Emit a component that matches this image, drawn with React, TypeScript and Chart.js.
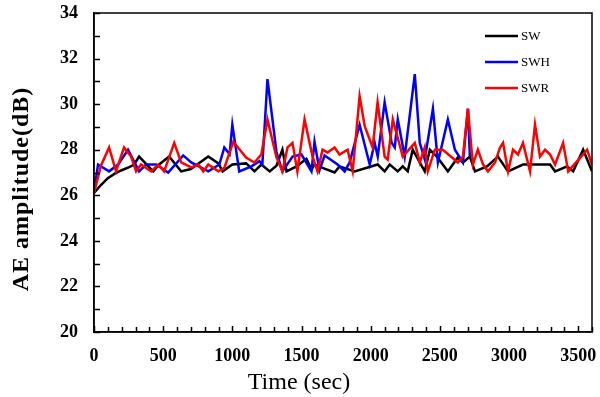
import React, { useEffect, useRef } from "react";
import { Chart, registerables } from "chart.js";

Chart.register(...registerables);

const swTime = [0, 50, 100, 150, 200, 250, 290, 326, 428, 471, 543, 630, 700, 826, 899, 930, 1000, 1100, 1160, 1210, 1270, 1319, 1362, 1392, 1464, 1536, 1572, 1594, 1652, 1739, 1775, 1884, 2051, 2101, 2138, 2196, 2232, 2268, 2304, 2391, 2428, 2478, 2558, 2630, 2667, 2717, 2754, 2841, 2920, 2993, 3101, 3152, 3297, 3333, 3420, 3464, 3536, 3600];
const swValues = [26.1, 26.45, 26.75, 26.95, 27.1, 27.22, 27.35, 27.7, 27.05, 27.35, 27.7, 27.05, 27.15, 27.7, 27.4, 27.05, 27.35, 27.4, 27.05, 27.35, 27.05, 27.3, 28.0, 27.05, 27.27, 27.6, 27.13, 27.35, 27.2, 27.0, 27.27, 27.05, 27.35, 27.05, 27.35, 27.05, 27.27, 27.05, 28.0, 27.05, 28.0, 27.7, 27.05, 27.66, 27.44, 27.7, 27.05, 27.27, 27.7, 27.05, 27.35, 27.35, 27.35, 27.05, 27.27, 27.05, 28.0, 27.05];

const swhTime = [0, 29, 109, 174, 246, 326, 377, 449, 536, 645, 703, 826, 906, 942, 980, 1000, 1050, 1138, 1196, 1217, 1254, 1319, 1362, 1435, 1500, 1572, 1594, 1630, 1667, 1761, 1812, 1848, 1920, 1993, 2029, 2051, 2101, 2152, 2174, 2196, 2246, 2319, 2355, 2391, 2450, 2486, 2558, 2609, 2667, 2703, 2717];
const swhValues = [26.1, 27.35, 27.05, 27.35, 28.0, 27.05, 27.35, 27.35, 27.0, 27.75, 27.44, 27.05, 27.35, 28.1, 27.8, 29.1, 27.05, 27.27, 27.5, 27.35, 31.1, 27.9, 27.05, 27.7, 27.79, 27.05, 28.35, 27.1, 27.75, 27.35, 27.05, 27.44, 29.1, 27.35, 28.3, 27.7, 30.08, 28.3, 28.1, 29.33, 27.7, 31.32, 28.3, 27.57, 29.8, 27.44, 29.33, 28.0, 27.44, 29.8, 27.7];

const swrTime = [0, 50, 109, 159, 217, 268, 304, 340, 413, 464, 507, 580, 630, 703, 754, 790, 826, 899, 942, 1007, 1100, 1160, 1210, 1254, 1319, 1362, 1399, 1435, 1470, 1522, 1580, 1616, 1652, 1688, 1739, 1775, 1833, 1870, 1920, 1957, 2014, 2050, 2101, 2123, 2160, 2232, 2319, 2355, 2391, 2413, 2464, 2522, 2630, 2667, 2703, 2739, 2775, 2812, 2848, 2899, 2935, 2957, 2993, 3029, 3065, 3101, 3152, 3188, 3224, 3261, 3297, 3333, 3391, 3428, 3565, 3600];
const swrValues = [26.1, 27.3, 28.1, 27.05, 28.1, 27.7, 27.05, 27.35, 27.05, 27.35, 27.05, 28.3, 27.44, 27.22, 27.35, 27.05, 27.35, 27.05, 27.2, 28.35, 27.66, 27.44, 27.8, 29.33, 27.66, 27.05, 28.1, 28.3, 27.05, 29.33, 27.7, 27.05, 28.0, 27.88, 28.1, 27.79, 28.0, 27.05, 30.35, 29.03, 28.1, 30.08, 27.7, 27.57, 29.33, 27.7, 28.3, 27.44, 28.1, 27.05, 28.0, 28.0, 27.44, 27.7, 29.8, 27.35, 28.0, 27.35, 27.05, 27.44, 28.1, 28.3, 27.05, 28.0, 27.79, 28.3, 27.05, 29.1, 27.7, 28.0, 27.79, 27.35, 28.3, 27.05, 28.0, 27.35];

const xTickValues = [0, 500, 1000, 1500, 2000, 2500, 3000, 3500];
const seriesNames = ["SW", "SWH", "SWR"];
const seriesColors = ["#000000", "#0000ff", "#ff0000"];
const xTitle = "Time (sec)";
const yTitle = "AE amplitude(dB)";

const SERIF = "'Liberation Serif', 'Times New Roman', serif";

const toPoints = (xs: number[], ys: number[]) => xs.map((x, i) => ({ x, y: ys[i] }));

const decorations = {
  id: "decorations",
  afterDatasetsDraw(chart: any) {
    const { ctx, chartArea: a, scales } = chart;
    const xs = scales.x;
    const ys = scales.y;
    ctx.save();
    ctx.strokeStyle = "#000";
    ctx.lineWidth = 1.5;
    ctx.beginPath();
    for (let v = 0; v <= 3600; v += 100) {
      const px = Math.round(xs.getPixelForValue(v)) + 0.5;
      const len = v % 500 === 0 ? 6 : 5;
      ctx.moveTo(px, a.bottom);
      ctx.lineTo(px, a.bottom - len);
    }
    for (let v = 20; v <= 34; v += 1) {
      const py = Math.round(ys.getPixelForValue(v)) + 0.5;
      ctx.moveTo(a.left, py);
      ctx.lineTo(a.left + 6, py);
    }
    ctx.stroke();
    ctx.strokeRect(a.left, a.top, a.right - a.left, a.bottom - a.top);

    // legend
    const lx0 = a.right - 107;
    const lx1 = a.right - 74;
    const rows = [36, 62, 88];
    ctx.font = `13px ${SERIF}`;
    ctx.textBaseline = "middle";
    ctx.textAlign = "left";
    ctx.fillStyle = "#000";
    seriesNames.forEach((n, i) => {
      ctx.strokeStyle = seriesColors[i];
      ctx.lineWidth = 2.5;
      ctx.beginPath();
      ctx.moveTo(lx0, rows[i]);
      ctx.lineTo(lx1, rows[i]);
      ctx.stroke();
      ctx.fillText(n, lx1 + 3, rows[i] + 1);
    });

    // axis titles
    ctx.fillStyle = "#000";
    ctx.textAlign = "center";
    ctx.textBaseline = "middle";
    ctx.font = `24px ${SERIF}`;
    ctx.fillText(xTitle, 299, 383);

    ctx.save();
    ctx.translate(22, 189);
    ctx.rotate(-Math.PI / 2);
    ctx.font = `bold 24px ${SERIF}`;
    try { (ctx as any).letterSpacing = "1px"; } catch (e) {}
    ctx.fillText(yTitle, 0, 0);
    ctx.restore();
    ctx.restore();
  },
};

export default function App() {
  const ref = useRef<HTMLCanvasElement | null>(null);
  useEffect(() => {
    if (!ref.current) return;
    const chart = new Chart(ref.current, {
      type: "line",
      data: {
        datasets: [
          { label: seriesNames[0], data: toPoints(swTime, swValues), borderColor: seriesColors[0], order: 3 },
          { label: seriesNames[1], data: toPoints(swhTime, swhValues), borderColor: seriesColors[1], order: 2 },
          { label: seriesNames[2], data: toPoints(swrTime, swrValues), borderColor: seriesColors[2], order: 1 },
        ].map((d) => ({ ...d, borderWidth: 2.5, pointRadius: 0, tension: 0, fill: false })),
      },
      options: {
        animation: false,
        responsive: false,
        events: [],
        layout: { padding: { top: 13, right: 8, left: 0, bottom: 0 } },
        plugins: { legend: { display: false }, tooltip: { enabled: false } },
        scales: {
          x: {
            type: "linear",
            min: 0,
            max: 3600,
            afterFit: (s: any) => { s.height = 65; s.paddingLeft = 0; s.paddingRight = 0; },
            afterBuildTicks: (s: any) => {
              s.ticks = xTickValues.map((v) => ({ value: v }));
            },
            grid: { display: false, drawTicks: false },
            border: { display: true, color: "#000", width: 1.5 },
            ticks: { color: "#000", padding: 14, maxRotation: 0, autoSkip: false, callback: (v: any) => String(v), font: { family: SERIF, size: 18, weight: "bold" } },
            title: { display: false },
          },
          y: {
            type: "linear",
            min: 20,
            max: 34,
            afterFit: (s: any) => { s.width = 94; s.paddingTop = 0; s.paddingBottom = 0; },
            ticks: { stepSize: 2, color: "#000", padding: 16, callback: (v: any) => String(v), font: { family: SERIF, size: 18, weight: "bold" } },
            grid: { display: false, drawTicks: false },
            border: { display: true, color: "#000", width: 1.5 },
            title: { display: false },
          },
        },
      },
      plugins: [decorations],
    } as any);
    return () => chart.destroy();
  }, []);
  return (
    <div style={{ position: "fixed", left: 0, top: 0, width: 600, height: 397, background: "#fff" }}>
      <canvas ref={ref} width={600} height={397} style={{ width: 600, height: 397 }} />
    </div>
  );
}
